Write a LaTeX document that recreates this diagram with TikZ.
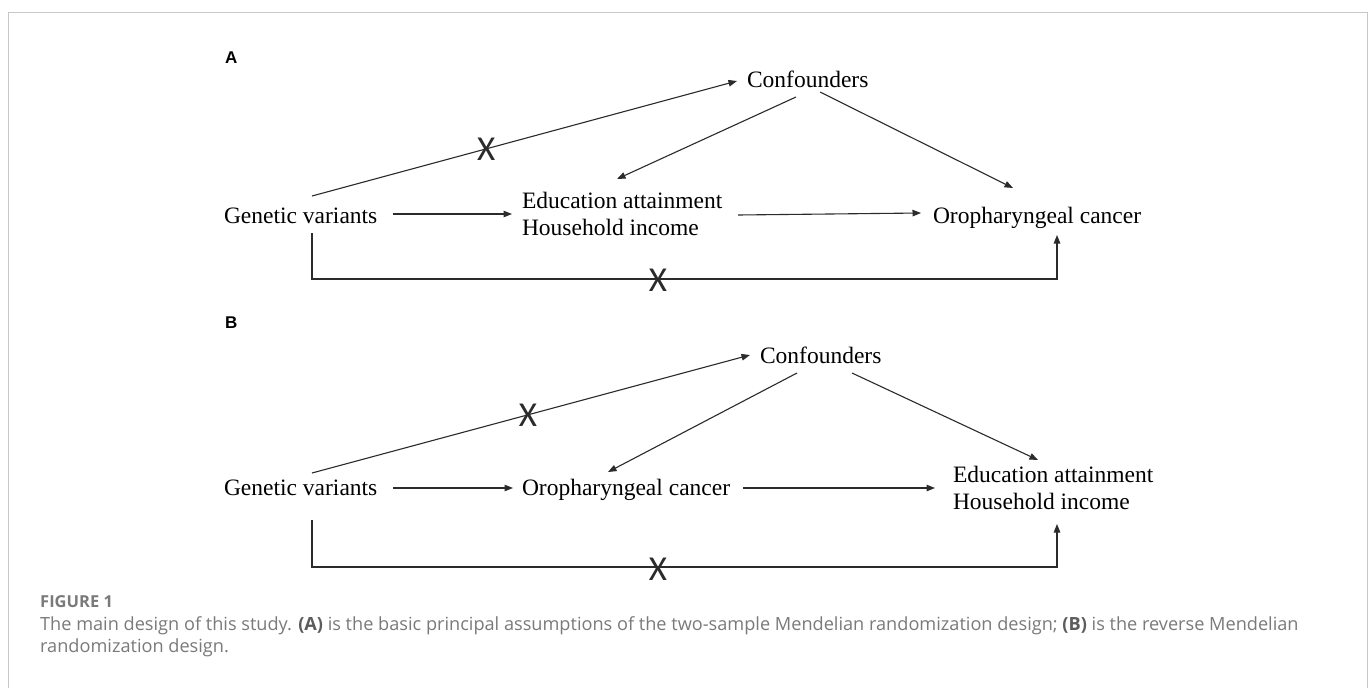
\documentclass[tikz,border=0pt]{standalone}
\usepackage{fontspec}
\setmainfont{Liberation Serif}
\newfontfamily\capfont{Open Sans}
\newfontfamily\xmfont{Carlito}
\newfontfamily\labfont{Liberation Sans}
\usetikzlibrary{arrows.meta,calc}
\definecolor{ln}{HTML}{2B2B2B}
\definecolor{frm}{HTML}{C8C8C8}
\definecolor{capgray}{HTML}{7A7A7A}
\definecolor{capdark}{HTML}{5C5C5C}
\begin{document}
\begin{tikzpicture}[x=1pt,y=-1pt,
  txt/.style={font=\fontsize{23.5}{27.5}\selectfont, inner sep=0pt, outer sep=0pt, anchor=base west, text=black},
  conn/.style={draw=ln, line width=1.1pt},
  arr/.style={conn, -{Triangle[length=8.5pt,width=6.5pt]}},
  xmark/.style={font=\xmfont\fontsize{35}{35}\selectfont, inner sep=0pt, text=ln},
  panel/.style={font=\labfont\bfseries\fontsize{17}{17}\selectfont, inner sep=0pt, anchor=base west},
  captxt/.style={font=\capfont\fontsize{18.15}{22}\selectfont, text=capgray, inner sep=0pt, anchor=base west}]
\useasboundingbox[fill=white] (0,0) rectangle (1372,688);
\draw[frm, line width=1.5pt] (8.5,688) -- (8.5,12.5) -- (1367.5,12.5) -- (1367.5,688);

% ---------- Panel A ----------
\node[panel] (labA) at (225,63) {A};
\node[txt] (gvA) at (224,223) {Genetic variants};
\node[txt] (eduA) at (522,208) {\vtop{\hbox{Education attainment}\hbox{Household income}}};
\node[txt] (oroA) at (933,223) {Oropharyngeal cancer};
\node[txt] (confA) at (747,87) {Confounders};

\draw[arr] ($(gvA.base west)+(88,-27)$) -- node[xmark, pos=0.41] (xA1) {X} ($(confA.base west)+(-10,-6)$);
\draw[arr] ($(gvA.base west)+(169,-9)$) -- ($(eduA.base west)+(-10,6)$);
\draw[arr] ($(eduA.base west)+(216,7)$) -- ($(oroA.base west)+(-12,-10)$);
\draw[arr] ($(confA.base west)+(49,10)$) -- ($(eduA.base west)+(95,-29)$);
\draw[arr] ($(confA.base west)+(73,5)$) -- ($(oroA.base west)+(80,-35)$);
\draw[arr] ($(gvA.base west)+(88,10)$) -- ++(0,46) -| ($(oroA.base west)+(124,12)$);
\node[xmark] (xA2) at (658,280) {X};

% ---------- Panel B ----------
\node[panel] (labB) at (225,328) {B};
\node[txt] (gvB) at (224,495) {Genetic variants};
\node[txt] (oroB) at (522,495) {Oropharyngeal cancer};
\node[txt] (eduB) at (953,482) {\vtop{\hbox{Education attainment}\hbox{Household income}}};
\node[txt] (confB) at (760,363) {Confounders};

\draw[arr] ($(gvB.base west)+(88,-22)$) -- node[xmark, pos=0.493] (xB1) {X} ($(confB.base west)+(-10,-8)$);
\draw[arr] ($(gvB.base west)+(169,-7)$) -- ($(oroB.base west)+(-9,-7)$);
\draw[arr] ($(oroB.base west)+(221,-7)$) -- ($(eduB.base west)+(-18,6)$);
\draw[arr] ($(confB.base west)+(37,10)$) -- ($(oroB.base west)+(86,-23)$);
\draw[arr] ($(confB.base west)+(92,10)$) -- ($(eduB.base west)+(85,-22)$);
\draw[arr] ($(gvB.base west)+(88,25)$) -- ++(0,47) -| ($(eduB.base west)+(104,42)$);
\node[xmark] (xB2) at (658,569) {X};

% ---------- Caption ----------
\node[captxt, font=\capfont\bfseries\fontsize{16.5}{16.5}\selectfont, text=capgray] (fig) at (40,607) {FIGURE 1};
\node[captxt] (cap1) at (40,630) {The main design of this study. {\bfseries\color{capdark}(A)} is the basic principal assumptions of the two-sample Mendelian randomization design; {\bfseries\color{capdark}(B)} is the reverse Mendelian};
\node[captxt] (cap2) at (40,652) {randomization design.};
\end{tikzpicture}
\end{document}
